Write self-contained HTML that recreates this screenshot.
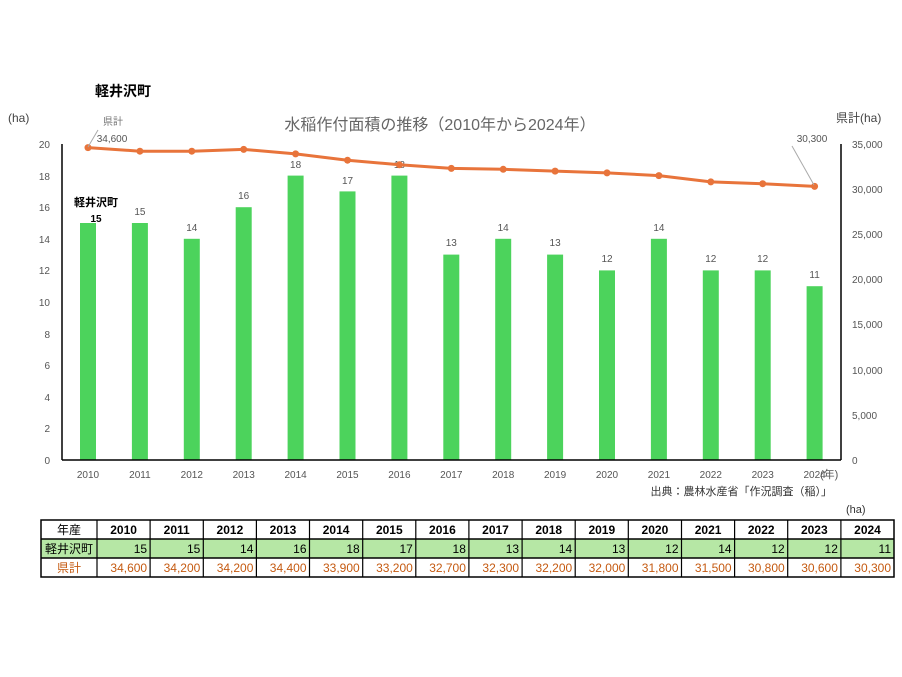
<!DOCTYPE html>
<html><head><meta charset="utf-8"><style>
body{margin:0;background:#fff;}
svg{display:block;font-family:"Liberation Sans","Noto Sans CJK JP",sans-serif;}
</style></head><body>
<svg width="902" height="677" xmlns="http://www.w3.org/2000/svg">
<rect width="902" height="677" fill="#fff"/>
<text x="95" y="96" font-size="14" font-weight="bold" fill="#000">軽井沢町</text>
<text x="8" y="122" font-size="12" fill="#444">(ha)</text>
<text x="836" y="122" font-size="12" fill="#444">県計(ha)</text>
<text x="440" y="130" font-size="16" fill="#666" text-anchor="middle">水稲作付面積の推移（2010年から2024年）</text>
<g font-size="10" fill="#555" text-anchor="end">
<text x="50" y="464">0</text><text x="50" y="432">2</text><text x="50" y="401">4</text><text x="50" y="369">6</text><text x="50" y="338">8</text><text x="50" y="306">10</text><text x="50" y="274">12</text><text x="50" y="243">14</text><text x="50" y="211">16</text><text x="50" y="180">18</text><text x="50" y="148">20</text>
</g>
<g font-size="10" fill="#555">
<text x="852" y="464">0</text><text x="852" y="419">5,000</text><text x="852" y="374">10,000</text><text x="852" y="328">15,000</text><text x="852" y="283">20,000</text><text x="852" y="238">25,000</text><text x="852" y="193">30,000</text><text x="852" y="148">35,000</text>
</g>
<g fill="#4cd35c">
<rect x="80" y="223" width="16" height="237"/>
<rect x="131.9" y="223" width="16" height="237"/>
<rect x="183.8" y="238.8" width="16" height="221.2"/>
<rect x="235.7" y="207.2" width="16" height="252.8"/>
<rect x="287.6" y="175.6" width="16" height="284.4"/>
<rect x="339.5" y="191.4" width="16" height="268.6"/>
<rect x="391.4" y="175.6" width="16" height="284.4"/>
<rect x="443.3" y="254.6" width="16" height="205.4"/>
<rect x="495.2" y="238.8" width="16" height="221.2"/>
<rect x="547.1" y="254.6" width="16" height="205.4"/>
<rect x="599" y="270.4" width="16" height="189.6"/>
<rect x="650.9" y="238.8" width="16" height="221.2"/>
<rect x="702.8" y="270.4" width="16" height="189.6"/>
<rect x="754.7" y="270.4" width="16" height="189.6"/>
<rect x="806.6" y="286.2" width="16" height="173.8"/>
</g>
<g font-size="10" fill="#555" text-anchor="middle">
<text x="139.9" y="215">15</text><text x="191.8" y="231">14</text><text x="243.7" y="199">16</text><text x="295.6" y="168">18</text><text x="347.5" y="184">17</text><text x="399.4" y="168">18</text><text x="451.3" y="246">13</text><text x="503.2" y="231">14</text><text x="555.1" y="246">13</text><text x="607" y="262">12</text><text x="658.9" y="231">14</text><text x="710.8" y="262">12</text><text x="762.7" y="262">12</text><text x="814.6" y="278">11</text>
<text x="88" y="478">2010</text><text x="139.9" y="478">2011</text><text x="191.8" y="478">2012</text><text x="243.7" y="478">2013</text><text x="295.6" y="478">2014</text><text x="347.5" y="478">2015</text><text x="399.4" y="478">2016</text><text x="451.3" y="478">2017</text><text x="503.2" y="478">2018</text><text x="555.1" y="478">2019</text><text x="607" y="478">2020</text><text x="658.9" y="478">2021</text><text x="710.8" y="478">2022</text><text x="762.7" y="478">2023</text><text x="814.6" y="478">2024</text>
</g>
<polyline points="88,147.6 139.9,151.2 191.8,151.2 243.7,149.4 295.6,153.9 347.5,160.2 399.4,164.8 451.3,168.4 503.2,169.3 555.1,171.1 607,172.9 658.9,175.6 710.8,181.9 762.7,183.7 814.6,186.4" fill="none" stroke="#e8743b" stroke-width="3"/>
<g fill="#e8743b">
<circle cx="88" cy="147.6" r="3.5"/><circle cx="139.9" cy="151.2" r="3.5"/><circle cx="191.8" cy="151.2" r="3.5"/><circle cx="243.7" cy="149.4" r="3.5"/><circle cx="295.6" cy="153.9" r="3.5"/><circle cx="347.5" cy="160.2" r="3.5"/><circle cx="399.4" cy="164.8" r="3.5"/><circle cx="451.3" cy="168.4" r="3.5"/><circle cx="503.2" cy="169.3" r="3.5"/><circle cx="555.1" cy="171.1" r="3.5"/><circle cx="607" cy="172.9" r="3.5"/><circle cx="658.9" cy="175.6" r="3.5"/><circle cx="710.8" cy="181.9" r="3.5"/><circle cx="762.7" cy="183.7" r="3.5"/><circle cx="814.6" cy="186.4" r="3.5"/>
</g>
<line x1="62" y1="144" x2="62" y2="460" stroke="#000" stroke-width="1.5"/>
<line x1="841" y1="144" x2="841" y2="460" stroke="#000" stroke-width="1.5"/>
<line x1="62" y1="460" x2="841" y2="460" stroke="#000" stroke-width="1.5"/>
<text x="96" y="206" font-size="11" font-weight="bold" fill="#000" text-anchor="middle">軽井沢町</text>
<text x="96" y="222" font-size="10" font-weight="bold" fill="#000" text-anchor="middle">15</text>
<line x1="88" y1="147" x2="98" y2="130" stroke="#aaa"/>
<text x="113" y="125" font-size="10" fill="#777" text-anchor="middle">県計</text>
<text x="112" y="142" font-size="10" fill="#555" text-anchor="middle">34,600</text>
<text x="812" y="142" font-size="10" fill="#555" text-anchor="middle">30,300</text>
<line x1="814" y1="185" x2="792" y2="146" stroke="#aaa"/>
<text x="820" y="478" font-size="11" fill="#555">(年)</text>
<text x="832" y="495" font-size="11" fill="#333" text-anchor="end">出典：農林水産省「作況調査（稲）」</text>
<text x="846" y="513" font-size="11" fill="#333">(ha)</text>
<rect x="41" y="539" width="853" height="19" fill="#b6e7a5"/>
<g font-size="12" text-anchor="middle">
<text x="69" y="534">年産</text><text x="69" y="553">軽井沢町</text><text x="69" y="572" fill="#c55a11">県計</text>
</g>
<g font-size="12" font-weight="bold" text-anchor="middle">
<text x="123.6" y="534">2010</text><text x="176.7" y="534">2011</text><text x="229.9" y="534">2012</text><text x="283" y="534">2013</text><text x="336.1" y="534">2014</text><text x="389.3" y="534">2015</text><text x="442.4" y="534">2016</text><text x="495.5" y="534">2017</text><text x="548.7" y="534">2018</text><text x="601.8" y="534">2019</text><text x="654.9" y="534">2020</text><text x="708.1" y="534">2021</text><text x="761.2" y="534">2022</text><text x="814.3" y="534">2023</text><text x="867.5" y="534">2024</text>
</g>
<g font-size="12" text-anchor="end">
<text x="147.1" y="553">15</text><text x="200.3" y="553">15</text><text x="253.4" y="553">14</text><text x="306.5" y="553">16</text><text x="359.7" y="553">18</text><text x="412.8" y="553">17</text><text x="465.9" y="553">18</text><text x="519.1" y="553">13</text><text x="572.2" y="553">14</text><text x="625.3" y="553">13</text><text x="678.5" y="553">12</text><text x="731.6" y="553">14</text><text x="784.7" y="553">12</text><text x="837.9" y="553">12</text><text x="891" y="553">11</text>
</g>
<g font-size="12" text-anchor="end" fill="#c55a11">
<text x="147.1" y="572">34,600</text><text x="200.3" y="572">34,200</text><text x="253.4" y="572">34,200</text><text x="306.5" y="572">34,400</text><text x="359.7" y="572">33,900</text><text x="412.8" y="572">33,200</text><text x="465.9" y="572">32,700</text><text x="519.1" y="572">32,300</text><text x="572.2" y="572">32,200</text><text x="625.3" y="572">32,000</text><text x="678.5" y="572">31,800</text><text x="731.6" y="572">31,500</text><text x="784.7" y="572">30,800</text><text x="837.9" y="572">30,600</text><text x="891" y="572">30,300</text>
</g>
<g stroke="#000" stroke-width="1.2">
<line x1="97" y1="520" x2="97" y2="577"/><line x1="150.1" y1="520" x2="150.1" y2="577"/><line x1="203.3" y1="520" x2="203.3" y2="577"/><line x1="256.4" y1="520" x2="256.4" y2="577"/><line x1="309.5" y1="520" x2="309.5" y2="577"/><line x1="362.7" y1="520" x2="362.7" y2="577"/><line x1="415.8" y1="520" x2="415.8" y2="577"/><line x1="468.9" y1="520" x2="468.9" y2="577"/><line x1="522.1" y1="520" x2="522.1" y2="577"/><line x1="575.2" y1="520" x2="575.2" y2="577"/><line x1="628.3" y1="520" x2="628.3" y2="577"/><line x1="681.5" y1="520" x2="681.5" y2="577"/><line x1="734.6" y1="520" x2="734.6" y2="577"/><line x1="787.7" y1="520" x2="787.7" y2="577"/><line x1="840.9" y1="520" x2="840.9" y2="577"/>
</g>
<rect x="41" y="520" width="853" height="57" fill="none" stroke="#000" stroke-width="1.5"/>
<line x1="41" y1="539" x2="894" y2="539" stroke="#000" stroke-width="1.5"/>
<line x1="41" y1="558" x2="894" y2="558" stroke="#000" stroke-width="1.5"/>
</svg>
</body></html>
